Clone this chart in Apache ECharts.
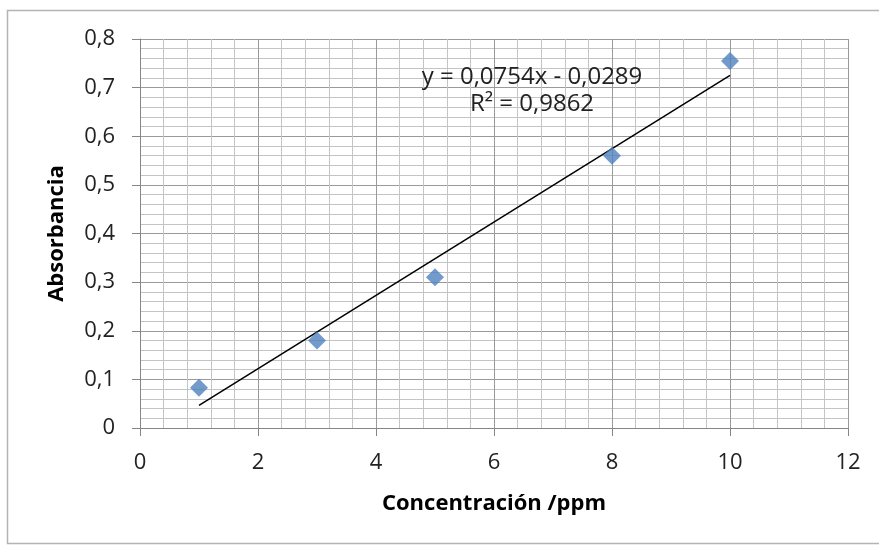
<!DOCTYPE html>
<html>
<head>
<meta charset="utf-8">
<script src="https://cdn.jsdelivr.net/npm/echarts@6/dist/echarts.min.js"></script>
<style>
html,body{margin:0;padding:0;background:#fff;}
#c{width:879px;height:548px;}
</style>
</head>
<body>
<div id="c"></div>
<script>
const concentracion = [1, 3, 5, 8, 10];
const absorbancia = [0.083, 0.18, 0.31, 0.56, 0.755];
const slope = 0.0754;
const intercept = -0.0289;
const r2 = 0.9862;
const xAxisTitle = 'Concentración /ppm';
const yAxisTitle = 'Absorbancia';

const comma = v => String(+v.toFixed(4)).replace('.', ',');
const trendX = [concentracion[0], concentracion[concentracion.length - 1]];
const trend = trendX.map(x => [x, slope * x + intercept]);
const eqText = 'y = ' + comma(slope) + 'x - ' + comma(-intercept);
const r2Text = 'R² = ' + comma(r2);

const FONT = '"Open Sans", sans-serif';
const chart = echarts.init(document.getElementById('c'));
chart.setOption({
  animation: false,
  backgroundColor: '#fff',
  grid: { left: 140, right: 31, top: 39, bottom: 120, containLabel: false },
  xAxis: {
    type: 'value', min: 0, max: 12, interval: 2,
    name: xAxisTitle, nameLocation: 'middle', nameGap: 65,
    nameTextStyle: { fontFamily: FONT, fontWeight: 'bold', fontSize: 22, color: '#000' },
    axisLine: { show: true, lineStyle: { color: '#868686', width: 1 } },
    axisTick: { show: true, length: 8, lineStyle: { color: '#868686' } },
    axisLabel: { margin: 24, fontFamily: FONT, fontSize: 22, color: '#222', formatter: v => comma(v) },
    splitLine: { show: true, lineStyle: { color: '#9a9a9a', width: 1 } },
    minorTick: { show: false, splitNumber: 5 },
    minorSplitLine: { show: true, lineStyle: { color: '#c4c4c4', width: 1 } }
  },
  yAxis: {
    type: 'value', min: 0, max: 0.8, interval: 0.1,
    name: yAxisTitle, nameLocation: 'middle', nameGap: 72, nameRotate: 90,
    nameTextStyle: { fontFamily: FONT, fontWeight: 'bold', fontSize: 22, color: '#000' },
    axisLine: { show: true, lineStyle: { color: '#868686', width: 1 } },
    axisTick: { show: true, length: 8, lineStyle: { color: '#868686' } },
    axisLabel: { margin: 25, fontFamily: FONT, fontSize: 22, color: '#222', formatter: v => comma(v) },
    splitLine: { show: true, lineStyle: { color: '#9a9a9a', width: 1 } },
    minorTick: { show: false, splitNumber: 5 },
    minorSplitLine: { show: true, lineStyle: { color: '#c4c4c4', width: 1 } }
  },
  graphic: [
    { type: 'rect', shape: { x: 7.5, y: 10.5, width: 900, height: 533 },
      style: { fill: 'none', stroke: '#b4b4b4', lineWidth: 1.5 }, silent: true, z: -10 },
    { type: 'text', x: 532, y: 77, z: 100,
      style: { text: eqText, fontFamily: FONT, fontSize: 24, fill: '#222', align: 'center', verticalAlign: 'middle' } },
    { type: 'text', x: 532, y: 104, z: 100,
      style: { text: r2Text, fontFamily: FONT, fontSize: 24, fill: '#222', align: 'center', verticalAlign: 'middle' } }
  ],
  series: [
    {
      type: 'line', data: trend, showSymbol: false, symbol: 'none',
      lineStyle: { color: '#000', width: 1.5 }, z: 3, silent: true
    },
    {
      type: 'scatter', data: concentracion.map((x, i) => [x, absorbancia[i]]),
      symbol: 'diamond', symbolSize: [18, 18],
      itemStyle: { color: '#4f81bd' }, z: 4
    }
  ]
});
</script>
</body>
</html>
